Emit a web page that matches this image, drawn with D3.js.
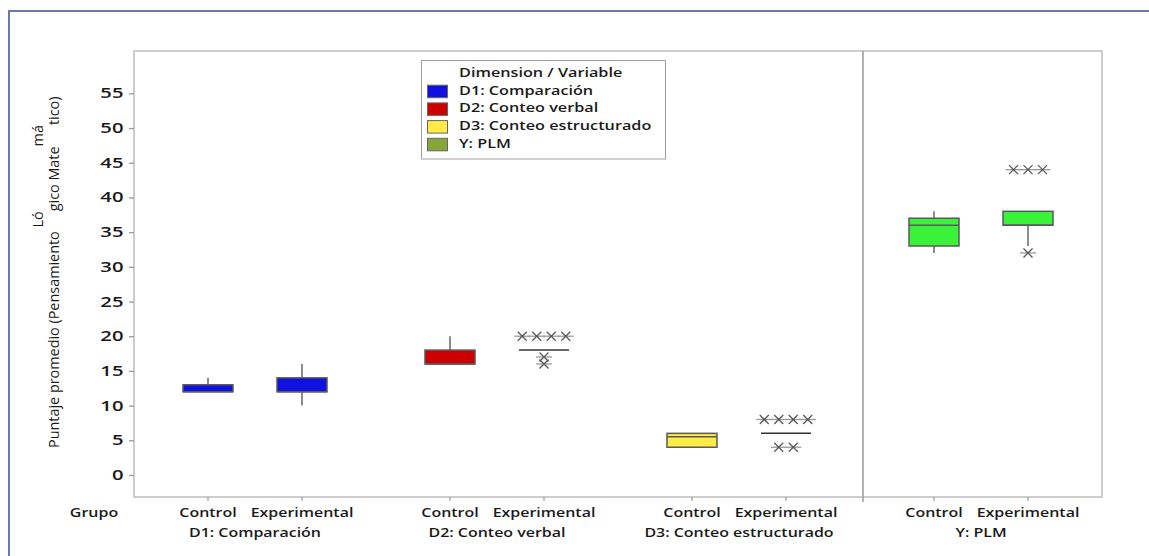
<!DOCTYPE html>
<html>
<head>
<meta charset="utf-8">
<script src="https://cdn.jsdelivr.net/npm/d3@7"></script>
<style>
  html, body { margin: 0; padding: 0; background: #fff; }
  svg { display: block; }
  text { font-family: "Open Sans", sans-serif; fill: #1a1a1a; }
</style>
</head>
<body>
<svg id="chart" width="1149" height="556"></svg>
<script>
// Dimensions (x panels) and groups within each panel
const dimensions = ["D1: Comparación", "D2: Conteo verbal", "D3: Conteo estructurado", "Y: PLM"];
const groups = ["Control", "Experimental"];

// Box fills per dimension, and swatch colours in the legend
const boxColors = ["#1010e0", "#cc0000", "#ffea47", "#3af23a"];
const legendColors = ["#1010e0", "#cc0000", "#ffea47", "#86a63a"];

// Five-number summaries, [Control, Experimental] per dimension
const whiskerLow  = [[12, 10], [16, 18], [4, 6],   [32, 33]];
const q1          = [[12, 12], [16, 18], [4, 6],   [33, 36]];
const median      = [[12, 12], [16, 18], [5.5, 6], [36, 36]];
const q3          = [[13, 14], [18, 18], [6, 6],   [37, 38]];
const whiskerHigh = [[14, 16], [20, 18], [6, 6],   [38, 38]];

// Outlying observations, [Control, Experimental] per dimension
const outliers = [
  [[], []],
  [[], [20, 20, 20, 20, 17, 16]],
  [[], [8, 8, 8, 8, 4, 4]],
  [[], [44, 44, 44, 32]]
];

// Y axis ticks
const yTicks = [0, 5, 10, 15, 20, 25, 30, 35, 40, 45, 50, 55];

const svg = d3.select("#chart");

const plot = { left: 134, right: 1102, top: 51, bottom: 497 };

const y = d3.scaleLinear().domain([-3.17, 61.1]).range([plot.bottom, plot.top]);
const xDim = d3.scaleBand().domain(dimensions).range([plot.left, plot.right]);
const xGrp = d3.scaleBand().domain(groups).range([0, xDim.bandwidth()])
  .paddingInner(0.468).paddingOuter(0.521);
const cx = (dim, g) => xDim(dim) + xGrp(g) + xGrp.bandwidth() / 2;

// Horizontally widened text, as in the original rendering
function wideText(parent, str, x, yy, sx, anchor, size, weight) {
  return parent.append("text")
    .attr("transform", `translate(${x},${yy}) scale(${sx},1)`)
    .attr("text-anchor", anchor)
    .attr("font-size", size)
    .attr("font-weight", weight)
    .text(str);
}

// Outer frame
svg.append("rect")
  .attr("x", 9).attr("y", 11).attr("width", 1160).attr("height", 560)
  .attr("fill", "none").attr("stroke", "#45599a").attr("stroke-width", 1.6);

// Plot border
svg.append("rect")
  .attr("x", plot.left).attr("y", plot.top)
  .attr("width", plot.right - plot.left).attr("height", plot.bottom - plot.top)
  .attr("fill", "none").attr("stroke", "#bdbdbd").attr("stroke-width", 1.5);

// Panel divider before the outcome variable
const divX = xDim(dimensions[3]) + 3;
svg.append("line")
  .attr("x1", divX).attr("x2", divX)
  .attr("y1", plot.top).attr("y2", plot.bottom + 5)
  .attr("stroke", "#9a9a9a").attr("stroke-width", 1.5);

// Y axis
const yAxis = svg.append("g")
  .attr("transform", `translate(${plot.left},0)`)
  .call(d3.axisLeft(y).tickValues(yTicks).tickSize(5).tickPadding(0).tickFormat(""));
yAxis.select(".domain").remove();
yAxis.selectAll(".tick line").attr("stroke", "#9a9a9a").attr("stroke-width", 1.3);
yTicks.forEach(v => {
  wideText(svg, String(v), 123.5, y(v) + 5, 1.5, "end", 13.5, 600);
});

// Y axis title (rotated), with the accented syllables raised off the baseline
const yTitle = svg.append("text")
  .attr("transform", "translate(59,448) rotate(-90)")
  .attr("font-size", 14.4)
  .attr("font-weight", 400);
yTitle.append("tspan").text("Puntaje promedio (Pensamiento ");
yTitle.append("tspan").attr("dy", -16).text("Ló");
yTitle.append("tspan").attr("dy", 16).text("gico Mate");
yTitle.append("tspan").attr("dy", -16).text("má");
yTitle.append("tspan").attr("dy", 16).text("tico)");

// X tick marks and labels
dimensions.forEach(dim => {
  groups.forEach(g => {
    svg.append("line")
      .attr("x1", cx(dim, g)).attr("x2", cx(dim, g))
      .attr("y1", plot.bottom).attr("y2", plot.bottom + 4)
      .attr("stroke", "#9a9a9a").attr("stroke-width", 1.2);
    wideText(svg, g, cx(dim, g), 517, 1.2, "middle", 13.3, 600);
  });
  wideText(svg, dim, xDim(dim) + xDim.bandwidth() / 2, 537, 1.2, "middle", 13.3, 600);
});
wideText(svg, "Grupo", 94, 517, 1.2, "middle", 13.3, 600);

// Boxes, whiskers and outliers
const boxW = xGrp.bandwidth();
dimensions.forEach((dim, i) => {
  groups.forEach((g, j) => {
    const c = cx(dim, g);
    const lo = q1[i][j], hi = q3[i][j];
    const gBox = svg.append("g");
    // whiskers
    if (whiskerHigh[i][j] > hi) {
      gBox.append("line").attr("x1", c).attr("x2", c)
        .attr("y1", y(hi)).attr("y2", y(whiskerHigh[i][j]))
        .attr("stroke", "#666").attr("stroke-width", 1.5);
    }
    if (whiskerLow[i][j] < lo) {
      gBox.append("line").attr("x1", c).attr("x2", c)
        .attr("y1", y(lo)).attr("y2", y(whiskerLow[i][j]))
        .attr("stroke", "#666").attr("stroke-width", 1.5);
    }
    if (hi > lo) {
      gBox.append("rect")
        .attr("x", c - boxW / 2).attr("y", y(hi))
        .attr("width", boxW).attr("height", y(lo) - y(hi))
        .attr("fill", boxColors[i]).attr("stroke", "#5a5a5a").attr("stroke-width", 1.5);
      gBox.append("line")
        .attr("x1", c - boxW / 2).attr("x2", c + boxW / 2)
        .attr("y1", y(median[i][j])).attr("y2", y(median[i][j]))
        .attr("stroke", "#5a5a5a").attr("stroke-width", 1.5);
    } else {
      gBox.append("line")
        .attr("x1", c - boxW / 2).attr("x2", c + boxW / 2)
        .attr("y1", y(median[i][j])).attr("y2", y(median[i][j]))
        .attr("stroke", "#333").attr("stroke-width", 1.5);
    }
    // outliers: repeated values placed side by side
    const counts = d3.rollup(outliers[i][j], v => v.length, d => d);
    counts.forEach((n, val) => {
      for (let k = 0; k < n; k++) {
        const ox = c + (k - (n - 1) / 2) * 14.5;
        const oy = y(val);
        const m = gBox.append("g").attr("transform", `translate(${ox},${oy})`);
        m.append("line").attr("x1", -8).attr("x2", 8).attr("y1", 0).attr("y2", 0)
          .attr("stroke", "#9a9a9a").attr("stroke-width", 1.3);
        m.append("line").attr("x1", -4.5).attr("x2", 4.5).attr("y1", -4.5).attr("y2", 4.5)
          .attr("stroke", "#555").attr("stroke-width", 1.3);
        m.append("line").attr("x1", -4.5).attr("x2", 4.5).attr("y1", 4.5).attr("y2", -4.5)
          .attr("stroke", "#555").attr("stroke-width", 1.3);
      }
    });
  });
});

// Legend
const lg = svg.append("g");
lg.append("rect")
  .attr("x", 421.5).attr("y", 60.5).attr("width", 244).attr("height", 98.5)
  .attr("fill", "#fff").attr("stroke", "#a0a0a0").attr("stroke-width", 1);
wideText(lg, "Dimension / Variable", 459, 77, 1.22, "start", 13.3, 600);
dimensions.forEach((dim, i) => {
  const by = 94.7 + i * 17.7;
  lg.append("rect")
    .attr("x", 427.5).attr("y", by - 9.5).attr("width", 20).attr("height", 12.5)
    .attr("fill", legendColors[i]).attr("stroke", "#666").attr("stroke-width", 1);
  wideText(lg, dim, 459, by, 1.22, "start", 13.3, 600);
});
</script>
</body>
</html>
